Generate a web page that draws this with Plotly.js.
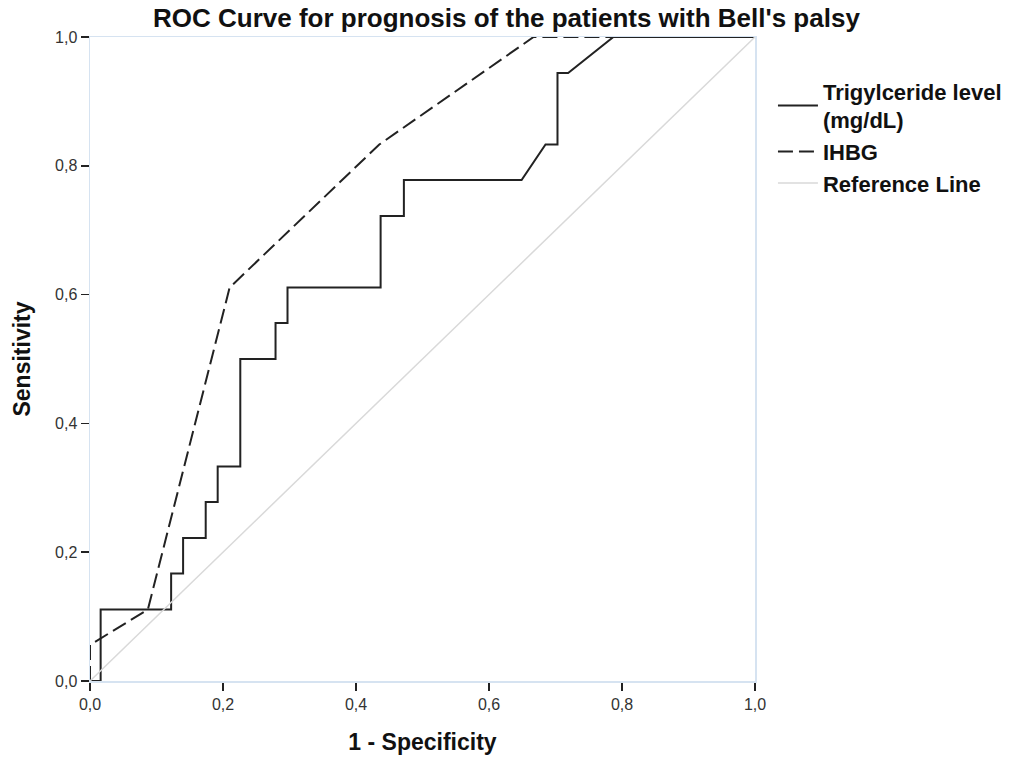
<!DOCTYPE html>
<html>
<head>
<meta charset="utf-8">
<script src="https://cdn.plot.ly/plotly-3.0.1.min.js"></script>
<style>html,body{margin:0;padding:0;background:#fff;}#chart{width:1019px;height:757px;}</style>
</head>
<body>
<div id="chart"></div>
<script>
// Trigylceride level ROC curve (1 - specificity, sensitivity)
const trigFPR = [0, 0.016, 0.016, 0.122, 0.122, 0.14, 0.14, 0.174, 0.174, 0.192, 0.192, 0.226, 0.226, 0.279, 0.279, 0.297, 0.297, 0.437, 0.437, 0.472, 0.472, 0.649, 0.685, 0.703, 0.703, 0.719, 0.787, 1.0];
const trigTPR = [0, 0, 0.111, 0.111, 0.167, 0.167, 0.222, 0.222, 0.278, 0.278, 0.333, 0.333, 0.5, 0.5, 0.556, 0.556, 0.611, 0.611, 0.722, 0.722, 0.778, 0.778, 0.833, 0.833, 0.944, 0.944, 1.0, 1.0];
// IHBG ROC curve
const ihbgFPR = [0, 0, 0.087, 0.21, 0.435, 0.667, 1.0];
const ihbgTPR = [0, 0.056, 0.111, 0.611, 0.833, 1.0, 1.0];
// Reference line
const refX = [0, 1];
const refY = [0, 1];
const tickVals = [0, 0.2, 0.4, 0.6, 0.8, 1.0];
const tickText = ["0,0", "0,2", "0,4", "0,6", "0,8", "1,0"];

const FONT = "Liberation Sans, Arial, sans-serif";

const traces = [
  {x: trigFPR, y: trigTPR, mode: "lines", name: "Trigylceride level<br>(mg/dL)",
   line: {color: "#222222", width: 2}, hoverinfo: "skip"},
  {x: ihbgFPR, y: ihbgTPR, mode: "lines", name: "IHBG",
   line: {color: "#222222", width: 2, dash: "15px,6px"}, hoverinfo: "skip"},
  {x: refX, y: refY, mode: "lines", name: "Reference Line",
   line: {color: "#d9d9d9", width: 1.5}, hoverinfo: "skip"}
];

const axisCommon = {
  range: [0, 1], tickvals: tickVals, ticktext: tickText,
  showgrid: false, zeroline: false, showline: true, mirror: true,
  linecolor: "#d6e3f1", linewidth: 1.5,
  ticks: "outside", ticklen: 8, tickcolor: "#222", tickwidth: 1.5,
  tickfont: {family: FONT, size: 16, color: "#333"}
};

const layout = {
  width: 1019, height: 757,
  margin: {l: 90, r: 262, t: 37, b: 76},
  paper_bgcolor: "#fff", plot_bgcolor: "#fff",
  title: {text: "<b>ROC Curve for prognosis of the patients with Bell's palsy</b>",
          font: {family: FONT, size: 26, color: "#111"},
          x: 0.497, xanchor: "center", y: 0.976, yanchor: "middle"},
  xaxis: Object.assign({}, axisCommon, {
    title: {text: "<b>1 - Specificity</b>", font: {family: FONT, size: 23, color: "#111"}, standoff: 22}
  }),
  yaxis: Object.assign({}, axisCommon, {
    title: {text: "<b>Sensitivity</b>", font: {family: FONT, size: 23, color: "#111"}, standoff: 18}
  }),
  showlegend: true,
  legend: {x: 1.027, xanchor: "left", y: 0.948, yanchor: "top",
           font: {family: FONT, size: 22, color: "#111", weight: "bold"},
           tracegroupgap: 0, itemwidth: 40, bgcolor: "rgba(0,0,0,0)"}
};

Plotly.newPlot("chart", traces, layout, {displayModeBar: false, staticPlot: true});
</script>
</body>
</html>
